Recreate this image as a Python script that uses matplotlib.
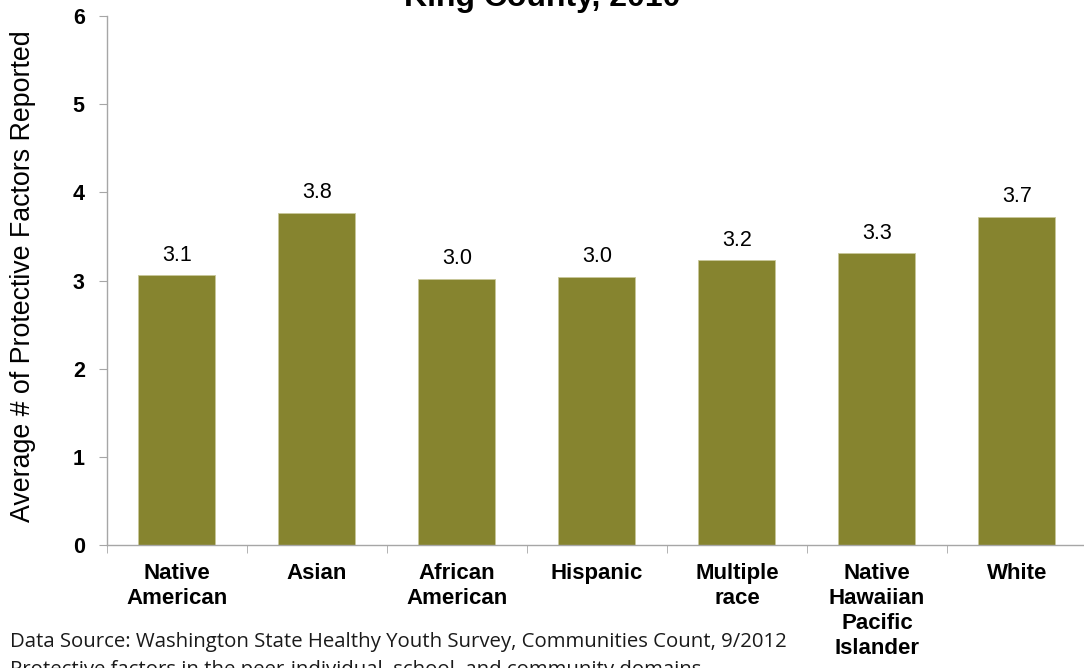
import matplotlib
matplotlib.use('Agg')
import matplotlib.pyplot as plt
import numpy as np

categories = ["Native\nAmerican", "Asian", "African\nAmerican", "Hispanic",
              "Multiple\nrace", "Native\nHawaiian\nPacific\nIslander", "White"]
values = [3.06, 3.77, 3.02, 3.04, 3.23, 3.31, 3.72]
y_ticks = [0, 1, 2, 3, 4, 5, 6]

bar_color = '#86842F'
axis_color = '#A6A6A6'
font = 'Liberation Sans'

fig = plt.figure(figsize=(10.84, 6.68), dpi=100)
ax = fig.add_axes([0.0987, 0.184, 0.904, 0.792])

x = np.arange(len(categories))
ax.bar(x, values, width=0.55, color=bar_color, edgecolor='#C9C79A', linewidth=0.6)

for xi, v in zip(x, values):
    ax.annotate(f"{v:.1f}", (xi, v), xytext=(0, 7), textcoords='offset points',
                ha='center', va='bottom', fontsize=15.5, family=font)

ax.set_xlim(-0.5, len(categories) - 0.5)
ax.set_ylim(0, 6)
ax.set_yticks(y_ticks)
ax.set_yticklabels([str(t) for t in y_ticks], fontsize=15.5, fontweight='bold', family=font)
ax.set_xticks(x)
ax.set_xticklabels(categories, fontsize=16, fontweight='bold', family=font,
                   linespacing=1.25)
ax.tick_params(axis='x', length=0, pad=13)
ax.set_xticks(np.arange(-0.5, len(categories)), minor=True)
ax.tick_params(axis='x', which='minor', length=6, color=axis_color, direction='out')
ax.tick_params(axis='y', length=6, color=axis_color, direction='out', pad=10)

for s in ['top', 'right']:
    ax.spines[s].set_visible(False)
for s in ['left', 'bottom']:
    ax.spines[s].set_color(axis_color)
    ax.spines[s].set_linewidth(1.0)

ax.set_ylabel("Average # of Protective Factors Reported", fontsize=19.3, family=font)
ax.yaxis.set_label_coords(-0.072, 0.508)

# title: only the lower line shows, the rest sits above the canvas
fig.text(0.5, 1 - 6 / 668, "Average Number of Protective Factors by Race/Ethnicity\nKing County, 2010",
         ha='center', va='baseline', fontsize=23, fontweight='bold', family=font,
         linespacing=1.1)

fig.text(10 / 1084, 1 - 647 / 668,
         "Data Source: Washington State Healthy Youth Survey, Communities Count, 9/2012",
         ha='left', va='baseline', fontsize=14.7, family='Open Sans', color='#1a1a1a')
fig.text(10 / 1084, 1 - 675 / 668,
         "Protective factors in the peer-individual, school, and community domains",
         ha='left', va='baseline', fontsize=14.7, family='Open Sans', color='#1a1a1a')

plt.savefig('out.png', dpi=100)
plt.close(fig)
